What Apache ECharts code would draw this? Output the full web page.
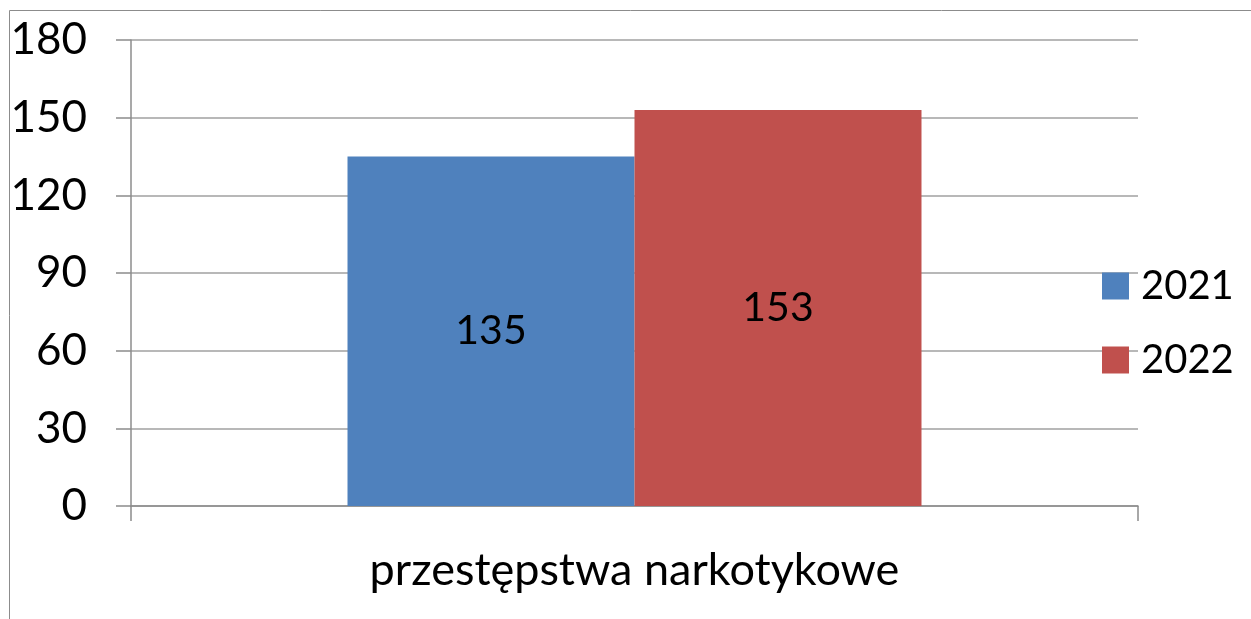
<!DOCTYPE html>
<html><head><meta charset="utf-8">
<script src="https://cdn.jsdelivr.net/npm/echarts@6/dist/echarts.min.js"></script>
<style>html,body{margin:0;padding:0;background:#fff}#c{width:1251px;height:619px}</style>
</head><body><div id="c"></div>
<script>
const categories = ['przestępstwa narkotykowe'];
const seriesNames = ['2021', '2022'];
const values2021 = [135];
const values2022 = [153];
const yTicks = [0, 30, 60, 90, 120, 150, 180];
const colors = ['#4F81BD', '#C0504D'];

const FONT = 'Lato';
const chart = echarts.init(document.getElementById('c'), null, {renderer: 'canvas'});
const lbl = {show: true, position: 'inside', color: '#000', fontSize: 41, fontFamily: FONT};
chart.setOption({
  animation: false,
  textStyle: {fontFamily: FONT},
  graphic: [{type: 'rect', shape: {x: 9.5, y: 10.5, width: 2000, height: 2000}, style: {fill: null, stroke: '#8c8c8c', lineWidth: 1}, silent: true}],
  grid: {left: 131, right: 113, top: 40, bottom: 113, containLabel: false},
  legend: {
    orient: 'vertical', left: 1097, top: 261, itemWidth: 27, itemHeight: 27, itemGap: 34,
    icon: 'rect',
    textStyle: {fontSize: 40, fontFamily: FONT, color: '#000', padding: [0, 0, 0, 7]},
    data: seriesNames
  },
  xAxis: {
    type: 'category', data: categories,
    axisLine: {lineStyle: {color: '#8c8c8c', width: 1.5}},
    axisTick: {show: true, length: 15, lineStyle: {color: '#8c8c8c', width: 1.5}},
    axisLabel: {color: '#000', fontSize: 45, fontFamily: FONT, margin: 42}
  },
  yAxis: {
    type: 'value', min: yTicks[0], max: yTicks[yTicks.length - 1], interval: yTicks[1] - yTicks[0],
    axisLine: {show: true, lineStyle: {color: '#8c8c8c', width: 1.5}},
    axisTick: {show: true, length: 15, lineStyle: {color: '#8c8c8c', width: 1.5}},
    splitLine: {lineStyle: {color: '#a0a0a0', width: 1.5}},
    axisLabel: {color: '#000', fontSize: 44, fontFamily: FONT, margin: 44}
  },
  series: [
    {name: seriesNames[0], type: 'bar', data: values2021, barGap: '0%', barCategoryGap: '43%', itemStyle: {color: colors[0]}, label: lbl},
    {name: seriesNames[1], type: 'bar', data: values2022, barGap: '0%', barCategoryGap: '43%', itemStyle: {color: colors[1]}, label: lbl}
  ]
});
</script></body></html>
